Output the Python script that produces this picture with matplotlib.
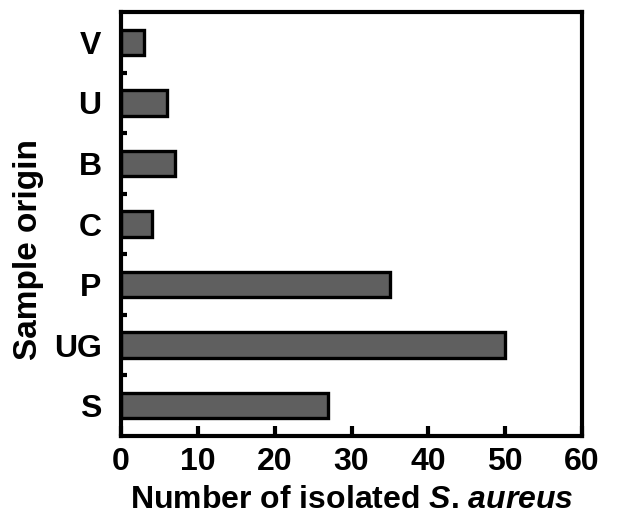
import matplotlib
matplotlib.use("Agg")
import matplotlib.pyplot as plt
import matplotlib.ticker as mticker

plt.rcParams['font.family'] = ['Liberation Sans', 'DejaVu Sans']
plt.rcParams['font.weight'] = 'bold'
plt.rcParams['mathtext.fontset'] = 'custom'
plt.rcParams['mathtext.it'] = 'Liberation Sans:italic:bold'
plt.rcParams['mathtext.rm'] = 'Liberation Sans:bold'

origins = ['S', 'UG', 'P', 'C', 'B', 'U', 'V']
counts = [27, 50, 35, 4, 7, 6, 3]
xticks = [0, 10, 20, 30, 40, 50, 60]

fig = plt.figure(figsize=(6.23, 5.16), dpi=100)
ax = fig.add_axes([121 / 623, 1 - 436 / 516, (582 - 121) / 623, (436 - 12) / 516])

ax.barh(range(len(origins)), counts, height=0.42, color='#5f5f5f',
        edgecolor='black', linewidth=2.4)

ax.set_xlim(0, 60)
ax.set_ylim(-0.5, len(origins) - 0.5)
ax.set_xticks(xticks)
ax.set_yticks(range(len(origins)))
ax.set_yticklabels(origins)
ax.yaxis.set_minor_locator(mticker.FixedLocator([i + 0.5 for i in range(len(origins) - 1)]))

ax.tick_params(axis='x', direction='in', length=7, width=3, labelsize=23, pad=8)
ax.tick_params(axis='y', which='major', length=0, labelsize=23, pad=14)
ax.tick_params(axis='y', which='minor', direction='in', length=4, width=3)
for lab in ax.get_xticklabels() + ax.get_yticklabels():
    lab.set_fontweight('bold')

for s in ax.spines.values():
    s.set_linewidth(3)

ax.set_xlabel(r'Number of isolated $\mathit{S}$. $\mathit{aureus}$', fontsize=23, fontweight='bold', labelpad=6)
ax.set_ylabel('Sample origin', fontsize=24, fontweight='bold')
ax.yaxis.set_label_coords(-0.168, 0.44)

fig.savefig('out.png', dpi=100)
